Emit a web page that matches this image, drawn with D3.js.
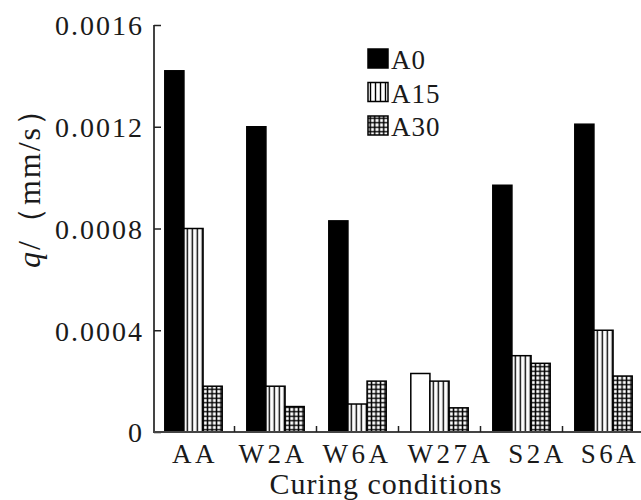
<!DOCTYPE html>
<html>
<head>
<meta charset="utf-8">
<script src="https://cdn.jsdelivr.net/npm/d3@7/dist/d3.min.js"></script>
<style>
  html, body { margin: 0; padding: 0; background: #fff; }
  svg { display: block; }
  text { font-family: "Liberation Serif", "Times New Roman", serif; fill: #1a1a1a; }
</style>
</head>
<body>
<svg id="chart" width="641" height="500"></svg>
<script>
// Seepage rate under different curing conditions
const categories = ["AA", "W2A", "W6A", "W27A", "S2A", "S6A"];
const seriesNames = ["A0", "A15", "A30"];
const valuesA0  = [0.00142, 0.00120, 0.00083, 0.00023, 0.00097, 0.00121];
const valuesA15 = [0.00080, 0.00018, 0.00011, 0.00020, 0.00030, 0.00040];
const valuesA30 = [0.00018, 0.00010, 0.00020, 0.000095, 0.00027, 0.00022];
const yTickValues = [0, 0.0004, 0.0008, 0.0012, 0.0016];
const yTickLabels = ["0", "0.0004", "0.0008", "0.0012", "0.0016"];

const seriesValues = { A0: valuesA0, A15: valuesA15, A30: valuesA30 };

const svg = d3.select("#chart");
const W = 641;

const y = d3.scaleLinear().domain([0, 0.0016]).range([432, 25]);
const x = d3.scaleBand().domain(categories).range([152.5, 644.5])
  .paddingInner(0.3).paddingOuter(0.15);
const x1 = d3.scaleBand().domain(seriesNames).range([0, x.bandwidth()]);

// fill patterns
const defs = svg.append("defs");
const stripe = defs.append("pattern").attr("id", "pat-a15")
  .attr("patternUnits", "userSpaceOnUse").attr("width", 5).attr("height", 10);
stripe.append("rect").attr("width", 5).attr("height", 10).attr("fill", "#fff");
stripe.append("line").attr("x1", 2.5).attr("x2", 2.5).attr("y1", 0).attr("y2", 10)
  .attr("stroke", "#000").attr("stroke-width", 1.4);

const grid = defs.append("pattern").attr("id", "pat-a30")
  .attr("patternUnits", "userSpaceOnUse").attr("width", 4.5).attr("height", 4.5);
grid.append("rect").attr("width", 4.5).attr("height", 4.5).attr("fill", "#fff");
grid.append("path").attr("d", "M2.25,0V4.5M0,2.25H4.5")
  .attr("stroke", "#000").attr("stroke-width", 1.5);

const fills = { A0: "#000", A15: "url(#pat-a15)", A30: "url(#pat-a30)" };
// the W27A reference bar is drawn open
const openBar = { category: "W27A", series: "A0" };

// bars
const groups = svg.append("g").selectAll("g")
  .data(categories).join("g")
  .attr("transform", d => `translate(${x(d)},0)`);

groups.selectAll("rect")
  .data((c, i) => seriesNames.map(s => ({ category: c, series: s, value: seriesValues[s][i] })))
  .join("rect")
  .attr("x", d => x1(d.series))
  .attr("y", d => y(d.value))
  .attr("width", x1.bandwidth())
  .attr("height", d => y(0) - y(d.value))
  .attr("fill", d => (d.category === openBar.category && d.series === openBar.series) ? "#fff" : fills[d.series])
  .attr("stroke", "#000")
  .attr("stroke-width", 1.5);

// y axis with inward ticks
const yAxis = svg.append("g").attr("transform", "translate(154,0)")
  .call(d3.axisLeft(y).tickValues(yTickValues)
    .tickFormat((d, i) => yTickLabels[i]).tickSize(-7).tickPadding(10));
yAxis.select(".domain").attr("stroke", "#444").attr("stroke-width", 2)
  .attr("d", `M0,${y(0.0016)}V${y(0)}`);
yAxis.selectAll(".tick line").attr("stroke", "#222").attr("stroke-width", 1.5);
yAxis.selectAll(".tick text").attr("font-size", 28).attr("letter-spacing", "2px")
  .attr("fill", "#1a1a1a").attr("dy", "0.35em");

// x axis baseline, category labels and separator ticks
const labelShift = [1.5, -2.5, -0.5, 11, 16, 6.5];
const xAxis = svg.append("g").attr("transform", `translate(0,${y(0)})`)
  .call(d3.axisBottom(x).tickSize(0).tickPadding(12));
xAxis.select(".domain").attr("stroke", "#444").attr("stroke-width", 2)
  .attr("d", `M153,0H${W}`);
xAxis.selectAll(".tick text").attr("font-size", 27).attr("letter-spacing", "3.5px")
  .attr("fill", "#1a1a1a").attr("dy", "0.71em")
  .attr("dx", (d, i) => labelShift[i]);

const step = x.step();
const seps = categories.slice(1).map(c => x(c) - step * x.paddingInner() / 2);
svg.append("g").selectAll("line").data(seps).join("line")
  .attr("x1", d => d).attr("x2", d => d)
  .attr("y1", y(0)).attr("y2", y(0) - 6)
  .attr("stroke", "#222").attr("stroke-width", 1.5);

// axis titles
svg.append("text")
  .attr("x", 386).attr("y", 494)
  .attr("text-anchor", "middle").attr("font-size", 30).attr("letter-spacing", "1px")
  .text("Curing conditions");

const yt = svg.append("text")
  .attr("transform", "translate(40,180) rotate(-90)")
  .attr("text-anchor", "middle").attr("font-size", 32).attr("letter-spacing", "2px")
  .attr("fill", "#444");
yt.append("tspan").attr("font-style", "italic").text("q");
yt.append("tspan").text("/（mm/s）");

// legend
const legend = svg.append("g").attr("transform", "translate(368,49)");
const items = legend.selectAll("g").data(seriesNames).join("g")
  .attr("transform", (d, i) => `translate(0,${i * 33.5})`);
items.append("rect")
  .attr("width", 20).attr("height", 19)
  .attr("fill", d => fills[d]).attr("stroke", "#000").attr("stroke-width", 1.5);
items.append("text")
  .attr("x", 23).attr("y", 20)
  .attr("font-size", 27).attr("letter-spacing", "1px")
  .text(d => d);
</script>
</body>
</html>
